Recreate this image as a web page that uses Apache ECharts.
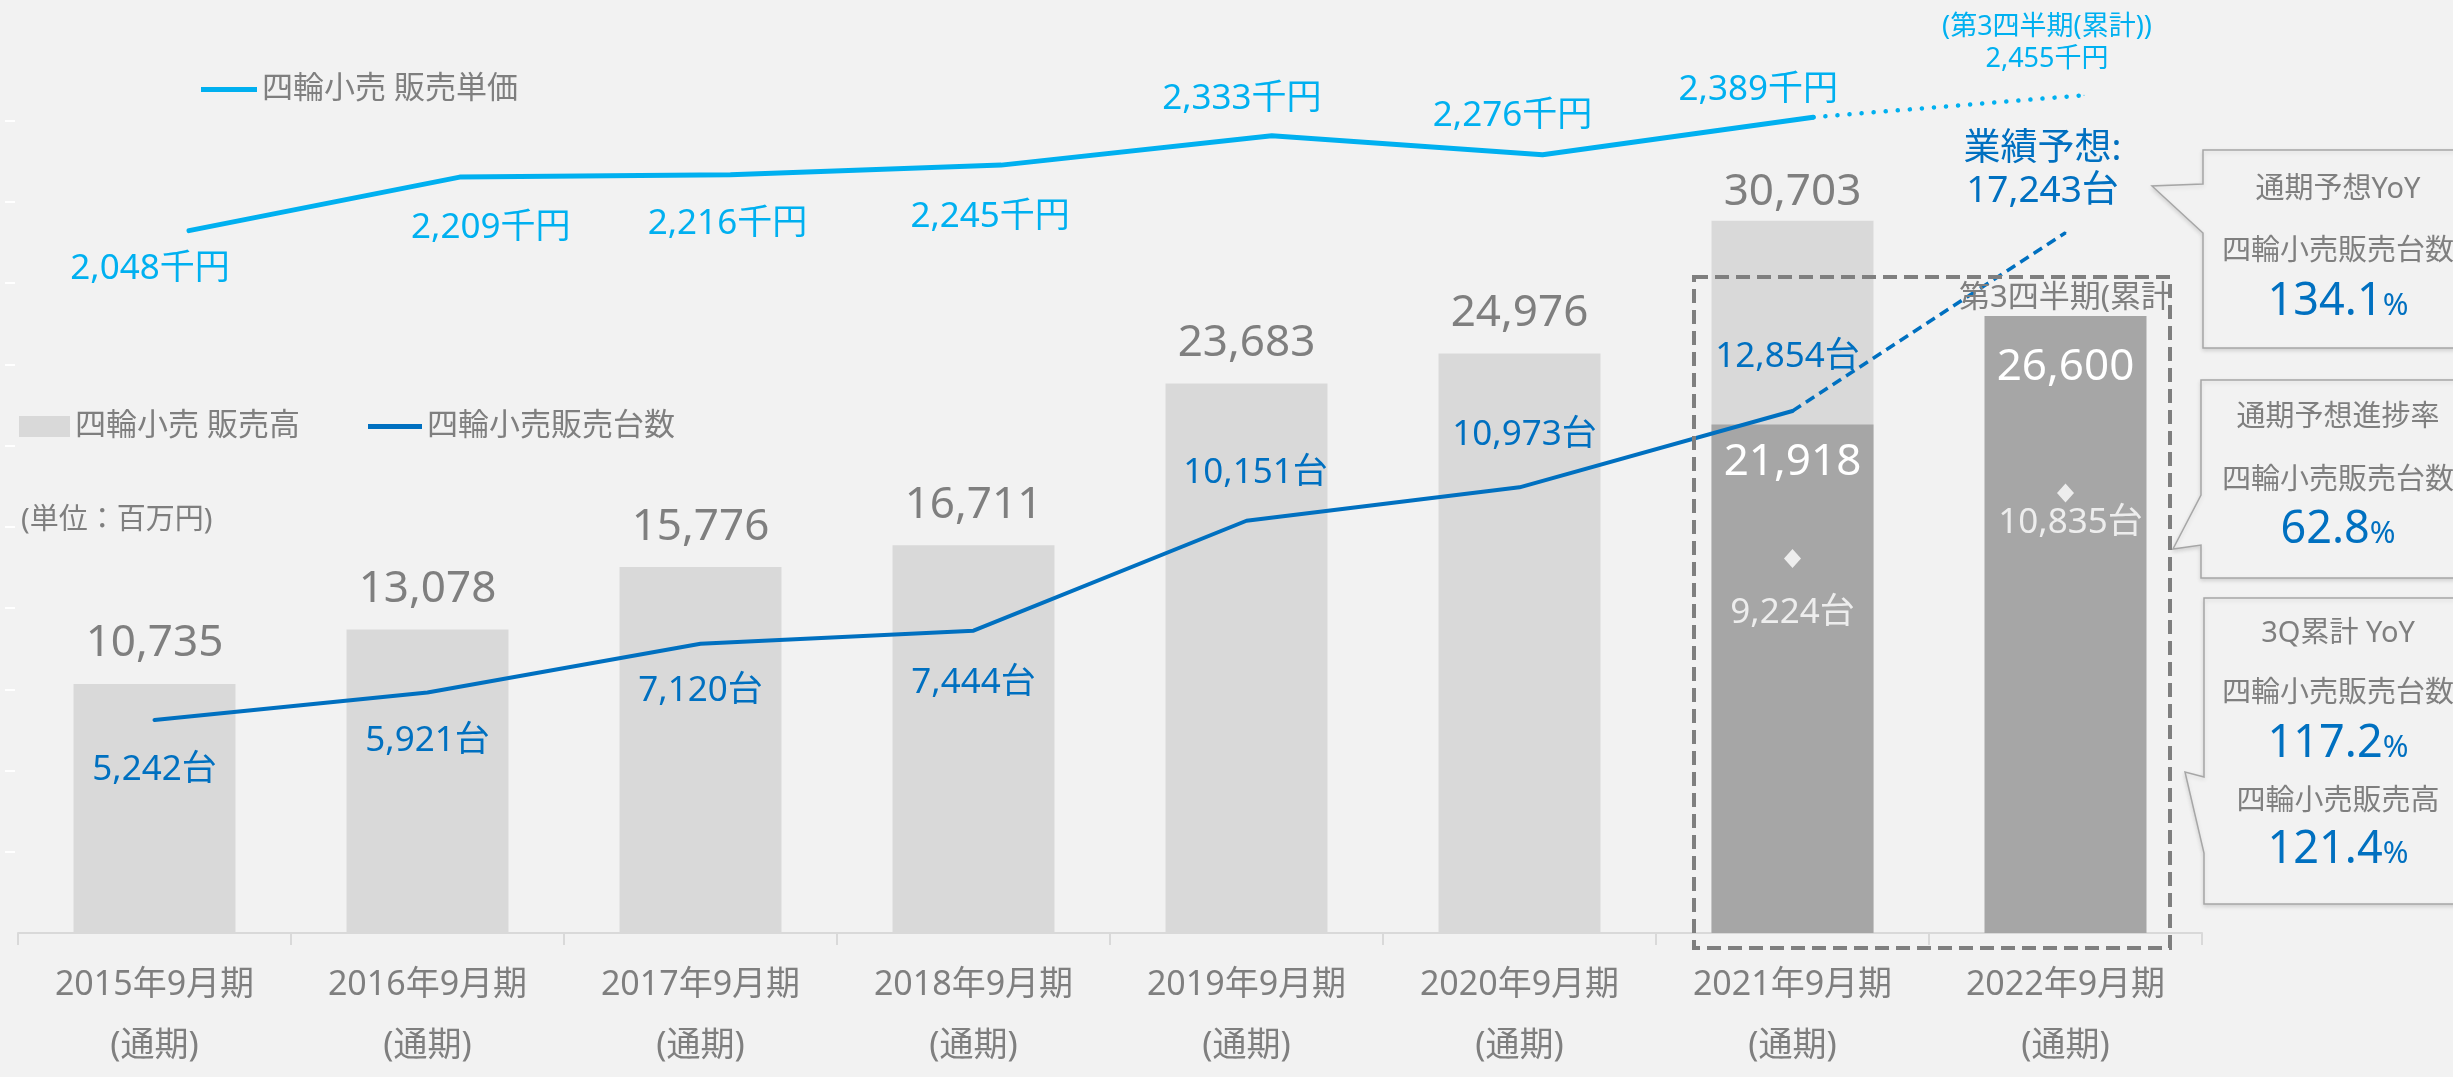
<!DOCTYPE html>
<html>
<head>
<meta charset="utf-8">
<script src="https://cdn.jsdelivr.net/npm/echarts@6/dist/echarts.min.js"></script>
<style>
html,body{margin:0;padding:0;background:#F2F2F2;}
#chart{width:2453px;height:1077px;}
</style>
</head>
<body>
<div id="chart"></div>
<script>
// ---------- data ----------
const categories = ['2015年9月期','2016年9月期','2017年9月期','2018年9月期','2019年9月期','2020年9月期','2021年9月期','2022年9月期'];
const periodNote = '(通期)';
const salesFull = [10735, 13078, 15776, 16711, 23683, 24976, 30703, null];       // 四輪小売 販売高 (百万円)
const sales3Q = [null, null, null, null, null, null, 21918, 26600];              // 第3四半期累計 販売高
const units = [5242, 5921, 7120, 7444, 10151, 10973, 12854, null];              // 四輪小売販売台数
const unitsForecast = [null, null, null, null, null, null, 12854, 17243];       // 業績予想
const units3Q = [null, null, null, null, null, null, 9224, 10835];              // 第3四半期累計 台数
const price = [2048, 2209, 2216, 2245, 2333, 2276, 2389, null];                 // 販売単価 (千円)
const price3Q = [null, null, null, null, null, null, 2389, 2455];               // 第3四半期累計 単価
const unitTicks = [2000, 4000, 6000, 8000, 10000, 12000, 14000, 16000, 18000, 20000];
const calloutHeads = ['通期予想YoY', '通期予想進捗率', '3Q累計 YoY'];
const calloutLabels = [['四輪小売販売台数'], ['四輪小売販売台数'], ['四輪小売販売台数', '四輪小売販売高']];
const calloutValues = [['134.1'], ['62.8'], ['117.2', '121.4']];

// ---------- styles / layout ----------
const F = '"Noto Sans","Noto Sans CJK JP",sans-serif';
const W = 'normal';
const GREY = '#7F7F7F', BLUE = '#0070C0', SKY = '#00B0F0';
const fmt = v => Number(v).toLocaleString('en-US');

const unitLbl = [['bottom',31.5,0],['bottom',29.5,0],['bottom',28.5,0],['bottom',33.5,0],['top',29.5,9],['top',33.5,5],['top',35.5,-5]];
const priceLbl = [['bottom',19.5,-39],['bottom',32.5,31],['bottom',30.5,-3],['bottom',33.5,-11],['top',18.5,-30],['top',20.5,-30],['top',8.5,-55]];
const unit3QLbl = [[28,0],[3,5]];

const chart = echarts.init(document.getElementById('chart'), null, {renderer:'canvas'});

const graphics = [];
// dashed highlight box
graphics.push({type:'rect', z:100, shape:{x:1694, y:277, width:476, height:671},
  style:{fill:'none', stroke:'#7F7F7F', lineWidth:4, lineDash:[14,7]}});
// callouts
const boxes = [
  {pts:[[2203,150],[2462,150],[2462,348],[2203,348],[2203,233],[2152,186],[2203,184]], headY:190, rows:[[252,302]]},
  {pts:[[2201,380],[2462,380],[2462,578],[2201,578],[2201,545],[2173,549],[2201,495]], headY:418, rows:[[481,530]]},
  {pts:[[2204,598],[2462,598],[2462,904],[2204,904],[2204,853],[2185,772],[2204,777]], headY:634, rows:[[694,744],[802,850]]}
];
boxes.forEach((b, bi) => {
  graphics.push({type:'polygon', z:50, shape:{points:b.pts},
    style:{fill:'#F2F2F2', stroke:'#A6A6A6', lineWidth:1.5, shadowBlur:4, shadowColor:'rgba(0,0,0,0.12)', shadowOffsetY:2}});
  graphics.push({type:'text', z:51, x:2338, y:b.headY,
    style:{text:calloutHeads[bi], fill:GREY, fontSize:29, fontWeight:W, fontFamily:F, align:'center', verticalAlign:'middle'}});
  b.rows.forEach((r, ri) => {
    graphics.push({type:'text', z:51, x:2338, y:r[0],
      style:{text:calloutLabels[bi][ri], fill:GREY, fontSize:29, fontWeight:W, fontFamily:F, align:'center', verticalAlign:'middle'}});
    graphics.push({type:'text', z:51, x:2338, y:r[1],
      style:{text:'{a|' + calloutValues[bi][ri] + '}{b|%}', align:'center', verticalAlign:'middle',
        rich:{a:{fill:BLUE, fontSize:45, fontWeight:W, fontFamily:F, verticalAlign:'bottom'}, b:{fill:BLUE, fontSize:31, fontWeight:W, fontFamily:F, verticalAlign:'bottom', padding:[0,0,3,0]}}}});
  });
});

const legendText = {color:GREY, fontSize:31, lineHeight:31, fontWeight:W, fontFamily:F};

const option = {
  backgroundColor:'#F2F2F2',
  animation:false,
  textStyle:{fontFamily:F},
  title:{text:'(単位：百万円)', left:16, top:501, textStyle:{color:GREY, fontSize:29, fontWeight:W, fontFamily:F}},
  legend:[
    {data:[{name:'四輪小売 販売単価', icon:'rect'}], left:196, top:69, itemWidth:56, itemHeight:5, selectedMode:false, textStyle:legendText},
    {data:[{name:'四輪小売 販売高', icon:'rect'}], left:14, top:406, itemWidth:51, itemHeight:21, selectedMode:false, textStyle:legendText},
    {data:[{name:'四輪小売販売台数', icon:'rect'}], left:363, top:406, itemWidth:54, itemHeight:5, selectedMode:false, textStyle:legendText}
  ],
  grid:[
    {left:18, right:251, top:5, bottom:133, containLabel:false},
    {left:189, right:369, top:47, bottom:664, containLabel:false}
  ],
  xAxis:[
    {type:'category', gridIndex:0, data:categories, boundaryGap:true,
      axisLine:{show:true, lineStyle:{color:'#D9D9D9', width:2}},
      axisTick:{show:true, length:12, lineStyle:{color:'#D9D9D9', width:2}},
      axisLabel:{interval:0, margin:22, color:GREY, fontSize:34, lineHeight:61, fontWeight:W, fontFamily:F,
        formatter:v => v + '\n' + periodNote}},
    {type:'category', gridIndex:1, data:categories, boundaryGap:false, show:false}
  ],
  yAxis:[
    {type:'value', gridIndex:0, min:0, max:40000, show:false},
    {type:'value', gridIndex:0, min:0, max:22850, interval:2000, position:'left', offset:3,
      axisLine:{show:false}, axisLabel:{show:false}, splitLine:{show:false},
      axisTick:{show:true, length:10, customValues:unitTicks, lineStyle:{color:'#FFFFFF', width:2}}},
    {type:'value', gridIndex:1, min:1500, max:2600, show:false}
  ],
  graphic:graphics,
  series:[
    {name:'四輪小売 販売高', type:'bar', xAxisIndex:0, yAxisIndex:0, barWidth:162, z:2,
      itemStyle:{color:'#D9D9D9'},
      label:{show:true, position:'top', distance:18, color:GREY, fontSize:44, lineHeight:44, fontWeight:W, fontFamily:F, formatter:p => fmt(p.value)},
      data:salesFull.map((v,i) => i === 6 ? {value:v, label:{distance:6}} : v)},
    {name:'第3四半期(累計) 販売高', type:'bar', xAxisIndex:0, yAxisIndex:0, barWidth:162, barGap:'-100%', z:2,
      itemStyle:{color:'#A6A6A6'},
      label:{show:true, position:'insideTop', color:'#FFFFFF', fontSize:44, lineHeight:44, fontWeight:W, fontFamily:F, formatter:p => fmt(p.value)},
      data:sales3Q.map((v,i) => v == null ? null : {value:v, label:{distance: i === 7 ? 30 : 16}}),
      markPoint:{symbol:'rect', symbolSize:1, itemStyle:{color:'rgba(0,0,0,0)'},
        label:{show:true, position:'top', distance:2, color:GREY, fontSize:31, lineHeight:31, fontWeight:W, fontFamily:F, formatter:'第3四半期(累計'},
        data:[{coord:[categories[7], sales3Q[7]]}]}},
    {name:'四輪小売販売台数', type:'line', xAxisIndex:0, yAxisIndex:1, z:4,
      symbol:'circle', symbolSize:2, showSymbol:true,
      lineStyle:{color:BLUE, width:4, cap:'round', join:'round'}, itemStyle:{color:BLUE},
      label:{show:true, color:BLUE, fontSize:35, lineHeight:35, fontWeight:W, fontFamily:F, formatter:p => fmt(p.value) + '台'},
      data:units.map((v,i) => v == null ? null : {value:v, label:{position:unitLbl[i][0], distance:unitLbl[i][1], offset:[unitLbl[i][2],0]}})},
    {name:'業績予想', type:'line', xAxisIndex:0, yAxisIndex:1, z:4,
      symbol:'circle', symbolSize:2,
      lineStyle:{color:BLUE, width:3.5, type:[10,6]}, itemStyle:{color:BLUE},
      label:{show:false},
      data:unitsForecast.map((v,i) => (v == null) ? null : (i === 7 ? {value:v, label:{show:true, position:'top', distance:19, offset:[-23,0],
        color:BLUE, fontSize:37, lineHeight:42, fontWeight:W, fontFamily:F, align:'center', formatter:p => '業績予想:\n' + fmt(p.value) + '台'}} : v))},
    {name:'第3四半期(累計) 台数', type:'scatter', xAxisIndex:0, yAxisIndex:1, z:5,
      symbol:'diamond', symbolSize:[17,19], itemStyle:{color:'#FFFFFF'},
      label:{show:true, position:'bottom', color:'#FFFFFF', fontSize:35, lineHeight:35, fontWeight:W, fontFamily:F, formatter:p => fmt(p.value) + '台'},
      data:units3Q.map((v,i) => v == null ? null : {value:v, label:{distance:unit3QLbl[i-6][0], offset:[unit3QLbl[i-6][1],0]}})},
    {name:'四輪小売 販売単価', type:'line', xAxisIndex:1, yAxisIndex:2, z:4,
      symbol:'circle', symbolSize:2,
      lineStyle:{color:SKY, width:5, cap:'round', join:'round'}, itemStyle:{color:SKY},
      label:{show:true, color:SKY, fontSize:35, lineHeight:35, fontWeight:W, fontFamily:F, formatter:p => fmt(p.value) + '千円'},
      data:price.map((v,i) => v == null ? null : {value:v, label:{position:priceLbl[i][0], distance:priceLbl[i][1], offset:[priceLbl[i][2],0]}})},
    {name:'第3四半期(累計) 単価', type:'line', xAxisIndex:1, yAxisIndex:2, z:4,
      symbol:'circle', symbolSize:1,
      lineStyle:{color:SKY, width:4.5, type:[0.1,12], cap:'round'}, itemStyle:{color:SKY},
      label:{show:false},
      data:price3Q.map((v,i) => (v == null) ? null : (i === 7 ? {value:v, label:{show:true, position:'top', distance:19, offset:[-37,0],
        align:'center', formatter:p => '{a|(第3四半期(累計))}\n{a|' + fmt(p.value) + '千円}',
        rich:{a:{color:SKY, fontSize:27, lineHeight:32, fontWeight:W, fontFamily:F, align:'center'}}}} : v))}
  ]
};
chart.setOption(option);
</script>
</body>
</html>
